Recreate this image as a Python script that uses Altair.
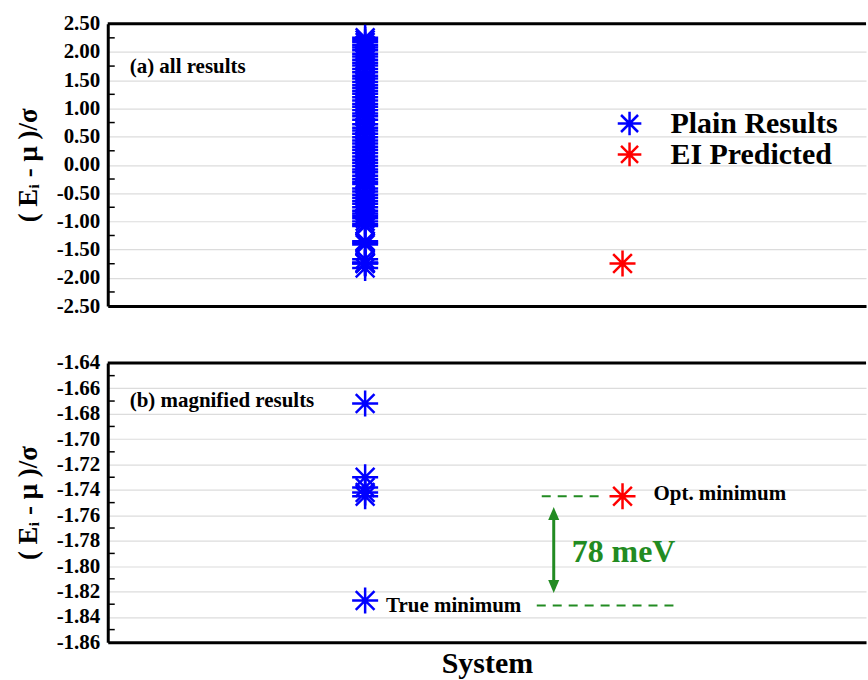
import altair as alt
import pandas as pd

# ---------------- data ----------------
series_names = ["Plain Results", "EI Predicted"]
series_colors = ["#0000ff", "#ff0000"]
series_pos = [1, 2]

plain_values = [2.25, 2.21, 2.17, 2.12, 2.08, 2.03, 1.97, 1.92, 1.86, 1.81, 1.76,
                1.70, 1.64, 1.58, 1.53, 1.47, 1.41, 1.36, 1.31, 1.26, 1.20, 1.14,
                1.08, 1.03, 0.97, 0.91, 0.86, 0.80, 0.72, 0.66, 0.61, 0.55, 0.49,
                0.43, 0.38, 0.32, 0.27, 0.21, 0.15, 0.09, 0.04, -0.02, -0.08,
                -0.13, -0.19, -0.25, -0.30, -0.34, -0.42, -0.47, -0.53, -0.58,
                -0.64, -0.69, -0.75, -0.81, -0.86, -0.90, -0.945, -1.00, -1.05,
                -1.08, -1.35, -1.38, -1.41, -1.672, -1.730, -1.738, -1.742,
                -1.745, -1.827]
ei_values = [-1.745]

top_ticks = [2.5, 2.0, 1.5, 1.0, 0.5, 0.0, -0.5, -1.0, -1.5, -2.0, -2.5]
top_minor = [2.25, 1.75, 1.25, 0.75, 0.25, -0.25, -0.75, -1.25, -1.75, -2.25]
bot_ticks = [-1.64, -1.66, -1.68, -1.70, -1.72, -1.74, -1.76, -1.78, -1.80,
             -1.82, -1.84, -1.86]
bot_minor = [-1.65, -1.67, -1.69, -1.71, -1.73, -1.75, -1.77, -1.79, -1.81,
             -1.83, -1.85]

opt_minimum = -1.745
true_minimum = -1.831
gap_label = "78 meV"

# ---------------- styling ----------------
W = 760
FONT = "Liberation Serif"
GREEN = "#228b22"
STAR = "M0,-1L0,1M-1,0L1,0M-0.72,-0.72L0.72,0.72M-0.72,0.72L0.72,-0.72"
STAR_SIZE = 680
YTITLE = "( E\u1d62 - \u03bc )/\u03c3"
LABEL_EXPR = "replace(format(datum.value, '.2f'), '\u2212', '-')"

points = pd.DataFrame({
    "series": [series_names[0]] * len(plain_values) + [series_names[1]] * len(ei_values),
    "x": [series_pos[0]] * len(plain_values) + [series_pos[1]] * len(ei_values),
    "v": plain_values + ei_values,
})
color_scale = alt.Scale(domain=series_names, range=series_colors)


def panel(domain, ticks, minor, height, label, xtitle, extra=None):
    data = points[(points.v >= domain[0]) & (points.v <= domain[1])]
    xaxis = dict(labels=False, ticks=False, grid=False, domainColor="black", domainWidth=3)
    if xtitle:
        xaxis.update(title=xtitle, titleFont=FONT, titleFontWeight="bold",
                     titleFontSize=30, titleColor="black", titlePadding=6)
    else:
        xaxis.update(title=None)
    xenc = alt.X("x:Q", scale=alt.Scale(domain=[0, 2.946], nice=False, zero=False),
                 axis=alt.Axis(**xaxis))
    yenc = alt.Y("v:Q", scale=alt.Scale(domain=domain, nice=False, zero=False),
                 axis=alt.Axis(values=ticks, labelExpr=LABEL_EXPR, title=YTITLE,
                               labelFont=FONT, labelFontWeight="bold", labelFontSize=21,
                               labelColor="black", labelPadding=8, ticks=False,
                               domainColor="black", domainWidth=3,
                               grid=True, gridColor="#dcdcdc", gridWidth=1.2,
                               titleFont=FONT, titleFontWeight="bold", titleFontSize=27,
                               titleColor="black", titlePadding=14))

    minor_layer = alt.Chart(pd.DataFrame({"v": minor})).mark_rule(
        color="black", strokeWidth=1.5).encode(x=alt.value(0), x2=alt.value(7), y=yenc)
    top_border = alt.Chart(pd.DataFrame({"a": [0]})).mark_rule(
        color="black", strokeWidth=3).encode(x=alt.value(0), x2=alt.value(W), y=alt.value(0))

    pts = alt.Chart(data).mark_point(shape=STAR, filled=False, size=STAR_SIZE,
                                     strokeWidth=2.5, opacity=1).encode(
        x=xenc, y=yenc,
        color=alt.Color("series:N", scale=color_scale, legend=None))
    txt = alt.Chart(pd.DataFrame({"t": [label]})).mark_text(
        font=FONT, fontWeight="bold", fontSize=21, align="left", baseline="middle",
        color="black").encode(x=alt.value(22), y=alt.value(43 if height > 281 else 38), text="t:N")
    layers = [minor_layer, top_border, txt]
    if extra:
        layers += extra(yenc)
    layers.append(pts)
    return alt.layer(*layers).properties(width=W, height=height)


def legend_layers(yenc):
    out = []
    for i, (name, col) in enumerate(zip(series_names, series_colors)):
        ypix = 100 + 31 * i
        d = pd.DataFrame({"series": [name]})
        out.append(alt.Chart(d).mark_point(shape=STAR, filled=False, size=560,
                                           strokeWidth=2.5, opacity=1, color=col).encode(
            x=alt.value(523), y=alt.value(ypix)))
        out.append(alt.Chart(d).mark_text(font=FONT, fontWeight="bold", fontSize=30,
                                          align="left", baseline="middle", dy=1,
                                          color="black").encode(
            x=alt.value(564), y=alt.value(ypix), text="series:N"))
    return out


def bottom_extras(yenc):
    dash = dict(color=GREEN, strokeWidth=2, strokeDash=[9, 7])
    opt_line = alt.Chart(pd.DataFrame({"v": [opt_minimum]})).mark_rule(**dash).encode(
        x=alt.value(435), x2=alt.value(495), y=yenc)
    true_line = alt.Chart(pd.DataFrame({"v": [true_minimum]})).mark_rule(**dash).encode(
        x=alt.value(430), x2=alt.value(572), y=yenc)
    shaft = alt.Chart(pd.DataFrame({"a": [0]})).mark_rule(color=GREEN, strokeWidth=3).encode(
        x=alt.value(447), y=alt.value(152), y2=alt.value(224))
    head_up = alt.Chart(pd.DataFrame({"a": [0]})).mark_point(
        shape="M0,-1L0.85,1L-0.85,1Z", filled=True, color=GREEN, size=170, opacity=1).encode(
        x=alt.value(447), y=alt.value(151))
    head_dn = alt.Chart(pd.DataFrame({"a": [0]})).mark_point(
        shape="M0,1L0.85,-1L-0.85,-1Z", filled=True, color=GREEN, size=170, opacity=1).encode(
        x=alt.value(447), y=alt.value(224))
    opt_txt = alt.Chart(pd.DataFrame({"v": [opt_minimum], "t": ["Opt. minimum"]})).mark_text(
        font=FONT, fontWeight="bold", fontSize=21, align="left", baseline="middle",
        dy=-2, color="black").encode(x=alt.value(547), y=yenc, text="t:N")
    true_txt = alt.Chart(pd.DataFrame({"v": [true_minimum], "t": ["True minimum"]})).mark_text(
        font=FONT, fontWeight="bold", fontSize=21, align="left", baseline="middle",
        dy=1, color="black").encode(x=alt.value(279), y=yenc, text="t:N")
    gap_txt = alt.Chart(pd.DataFrame({"t": [gap_label]})).mark_text(
        font=FONT, fontWeight="bold", fontSize=32, align="left", baseline="middle",
        color=GREEN).encode(x=alt.value(465), y=alt.value(190), text="t:N")
    return [opt_line, true_line, shaft, head_up, head_dn, opt_txt, true_txt, gap_txt]


top = panel([-2.5, 2.5], top_ticks, top_minor, 283, "(a) all results", None, legend_layers)
bottom = panel([-1.86, -1.64], bot_ticks, bot_minor, 280, "(b) magnified results",
               "System", bottom_extras)

chart = alt.vconcat(top, bottom, spacing=36).properties(
    padding={"left": 14, "top": 12, "right": 0, "bottom": 0},
    background="white",
).configure_view(stroke=None)

chart.save("out.html", embed_options={"renderer": "svg", "actions": False})
